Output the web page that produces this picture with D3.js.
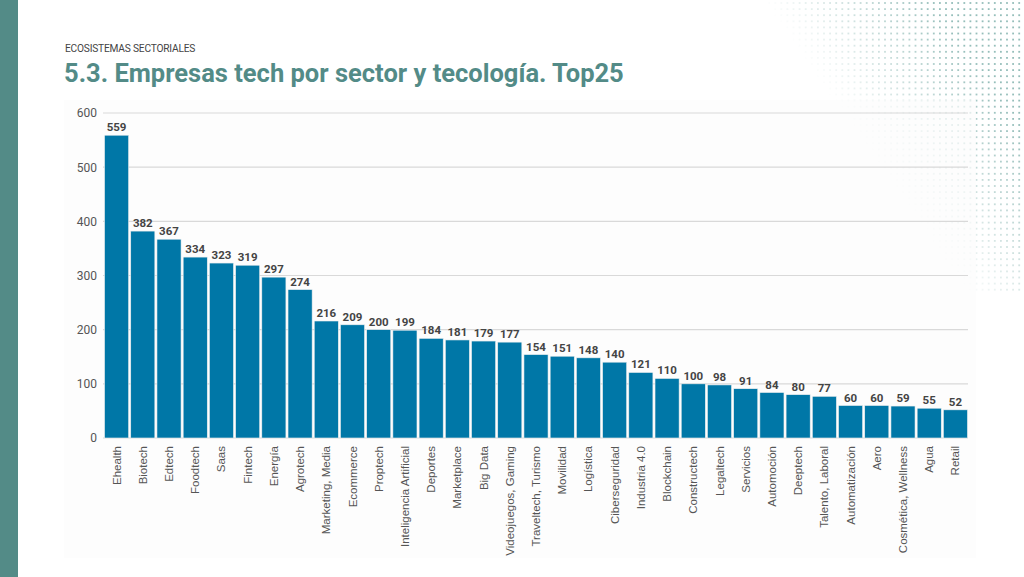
<!DOCTYPE html>
<html><head><meta charset="utf-8">
<script src="https://cdn.jsdelivr.net/npm/d3@7"></script>
<style>
html,body{margin:0;padding:0;background:#fff;}
svg{display:block;}
</style>
</head><body>
<svg id="c" width="1024" height="577"></svg>
<script>
const categories = ["Ehealth","Biotech","Edtech","Foodtech","Saas","Fintech","Energía","Agrotech","Marketing, Media","Ecommerce","Proptech","Inteligencia Artificial","Deportes","Marketplace","Big Data","Videojuegos, Gaming","Traveltech, Turismo","Movilidad","Logística","Ciberseguridad","Industria 4.0","Blockchain","Constructech","Legaltech","Servicios","Automoción","Deeptech","Talento, Laboral","Automatización","Aero","Cosmética, Wellness","Agua","Retail"];
const values = [559,382,367,334,323,319,297,274,216,209,200,199,184,181,179,177,154,151,148,140,121,110,100,98,91,84,80,77,60,60,59,55,52];
const yTicks = [0,100,200,300,400,500,600];
const kicker = "ECOSISTEMAS SECTORIALES";
const title = "5.3. Empresas tech por sector y tecología. Top25";

const svg = d3.select("#c");
const teal = "#538b87";

// decorative dot pattern (top-right)
const dots = svg.append("g");
for (let y = 3; y <= 292; y += 6.1) {
  for (let x = 763; x <= 1024; x += 6.1) {
    const f = x - 763 - 0.69 * y;
    if (f <= 0) continue;
    const op = Math.min(1, f / 170) * 0.75;
    dots.append("rect").attr("x", x - 0.9).attr("y", y - 0.9).attr("width", 1.8).attr("height", 1.8)
      .attr("fill", "#72a8a3").attr("opacity", op);
  }
}

// left strip
svg.append("rect").attr("x",0).attr("y",0).attr("width",18).attr("height",577).attr("fill",teal);

// chart panel
svg.append("rect").attr("x",64).attr("y",100).attr("width",912).attr("height",458)
  .attr("fill","#fcfcfc").attr("opacity",0.65);

// texts
svg.append("text").attr("x",65).attr("y",52).text(kicker)
  .attr("font-family","Roboto, sans-serif").attr("font-size",10.2).attr("fill","#444").attr("letter-spacing",-0.2);
svg.append("text").attr("x",64).attr("y",82).text(title)
  .attr("font-family","Roboto, sans-serif").attr("font-weight",700).attr("font-size",25.5).attr("fill",teal);

const x = d3.scaleBand().domain(categories).range([104, 968]).paddingInner(0.08).paddingOuter(0.02);
const y = d3.scaleLinear().domain([0, 600]).range([438, 113]);

// gridlines
svg.append("g").selectAll("line").data(yTicks).join("line")
  .attr("x1",103).attr("x2",968).attr("y1",d=>y(d)).attr("y2",d=>y(d))
  .attr("stroke","#d9d9d9").attr("stroke-width",1.2);

// y axis
const ya = svg.append("g").attr("transform","translate(103,0)")
  .call(d3.axisLeft(y).tickValues(yTicks).tickSize(0).tickPadding(6));
ya.select(".domain").remove();
ya.selectAll("text").attr("font-family","Roboto, sans-serif").attr("font-size",12).attr("fill","#555");

// bars
svg.append("g").selectAll("rect").data(values).join("rect")
  .attr("x",(d,i)=>x(categories[i])).attr("width",x.bandwidth())
  .attr("y",d=>y(d)).attr("height",d=>y(0)-y(d))
  .attr("fill","#0077a7").attr("stroke","#f0f0f0").attr("stroke-width",0.6);

// value labels
svg.append("g").selectAll("text").data(values).join("text")
  .attr("x",(d,i)=>x(categories[i])+x.bandwidth()/2).attr("y",d=>y(d)-4)
  .attr("text-anchor","middle").text(d=>d)
  .attr("font-family","Roboto, sans-serif").attr("font-weight",700).attr("font-size",11.5).attr("fill","#444");

// x axis labels
const xa = svg.append("g").attr("transform","translate(0,438)")
  .call(d3.axisBottom(x).tickSize(0).tickPadding(0));
xa.select(".domain").remove();
xa.selectAll("text")
  .attr("transform","rotate(-90)").attr("text-anchor","end")
  .attr("x",-8).attr("y",0).attr("dy","0.35em")
  .attr("font-family","'Liberation Sans', Arial, sans-serif").attr("font-size",11.5).attr("fill","#555");
</script>
</body></html>
